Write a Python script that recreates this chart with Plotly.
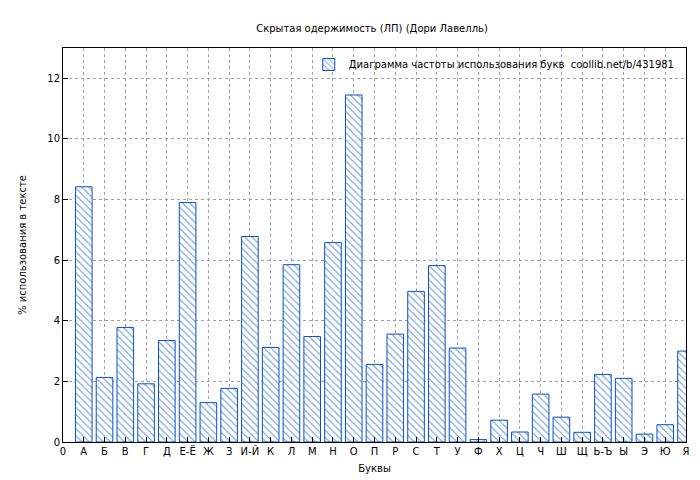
import plotly.graph_objects as go

letters = ["А","Б","В","Г","Д","Е-Ё","Ж","З","И-Й","К","Л","М","Н","О","П","Р","С","Т","У","Ф","Х","Ц","Ч","Ш","Щ","Ь-Ъ","Ы","Э","Ю","Я"]
values = [8.42,2.13,3.78,1.92,3.35,7.9,1.3,1.77,6.78,3.12,5.85,3.48,6.58,11.45,2.56,3.56,4.97,5.82,3.1,0.08,0.72,0.33,1.58,0.82,0.32,2.23,2.1,0.26,0.57,3.0]
tick_labels = ["0"] + letters

blue = "#0a50c8"
fig = go.Figure(go.Bar(
    x=list(range(1, len(letters)+1)), y=values, width=0.8,
    name="Диаграмма частоты использования букв  coollib.net/b/431981",
    marker=dict(color="white", line=dict(color=blue, width=1),
                pattern=dict(shape="\\", fgcolor=blue, bgcolor="white", size=5, solidity=0.25)),
    showlegend=True))

ax = dict(showgrid=True, gridcolor="#a0a0a0", griddash="dot", gridwidth=1,
          showline=True, linecolor="black", mirror=True, ticks="inside",
          tickcolor="black", zeroline=False, automargin=False)
fig.update_layout(
    width=700, height=480, plot_bgcolor="white", paper_bgcolor="white",
    font=dict(family="DejaVu Sans", size=10, color="black"),
    title=dict(text="Скрытая одержимость (ЛП) (Дори Лавелль)", x=0.52, y=0.965, font=dict(size=10)),
    margin=dict(l=55, r=22, t=40, b=46),
    xaxis=dict(ax, range=[0, 30], tickmode="array", tickvals=list(range(0, 31)), ticktext=tick_labels,
               title=dict(text="Буквы", standoff=8, font=dict(size=10))),
    yaxis=dict(ax, range=[0, 13], dtick=2, title=dict(text="% использования в тексте", standoff=18, font=dict(size=10))),
    legend=dict(x=0.99, y=0.995, xanchor="right", yanchor="top", bgcolor="rgba(0,0,0,0)", font=dict(size=10)),
    bargap=0.2)
fig.write_html("out.html")
